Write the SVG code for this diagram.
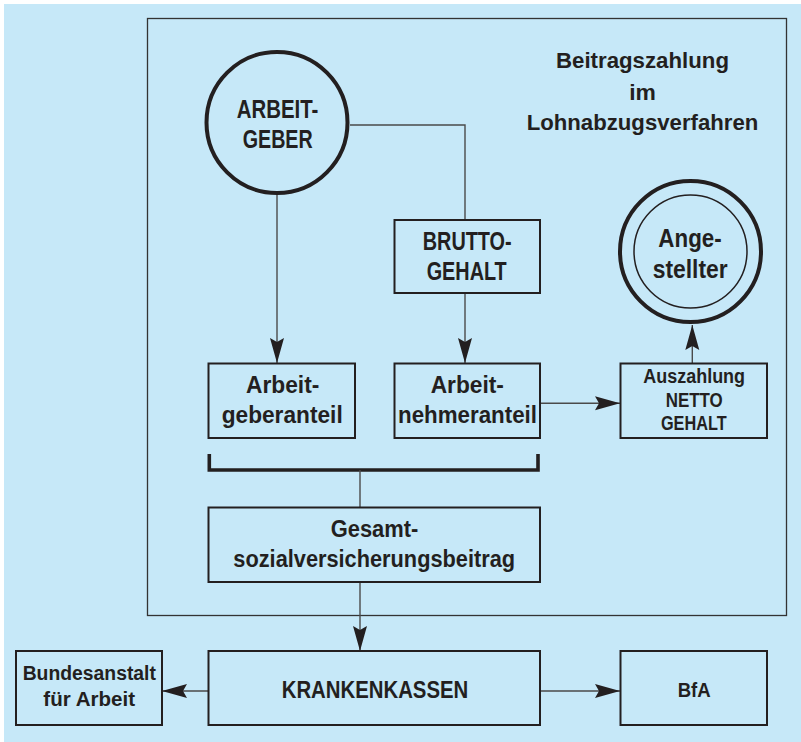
<svg xmlns="http://www.w3.org/2000/svg" width="801" height="742" viewBox="0 0 801 742">
<defs>
<style>
.box{fill:none;stroke:#231f20;stroke-width:2}
.frame{fill:none;stroke:#333;stroke-width:1.3}
.con{fill:none;stroke:#4a4a4a;stroke-width:1.4}
.t{font-family:"Liberation Sans",Arial,sans-serif;font-weight:bold;fill:#231f20;text-anchor:middle}
.l{font-size:25px}
.m{font-size:23.5px}
.s{font-size:20px}
.ti{font-size:21.5px}
</style>
<marker id="ah" markerUnits="userSpaceOnUse" markerWidth="26" markerHeight="16" viewBox="0 0 26 16" refX="25" refY="8" orient="auto">
<path d="M0,1 L25,8 L0,15 L4,8 Z" fill="#231f20"/>
</marker>
</defs>
<rect x="0" y="0" width="801" height="742" fill="#ffffff"/>
<rect x="4" y="4" width="797" height="738" fill="#c6e8f8"/>
<rect id="frame" class="frame" x="147.5" y="18.5" width="639" height="597"/>

<g id="title">
<text class="t ti" x="642.5" y="68.3" textLength="173" lengthAdjust="spacingAndGlyphs">Beitragszahlung</text>
<text class="t ti" x="642.5" y="100" textLength="26.7" lengthAdjust="spacingAndGlyphs">im</text>
<text class="t ti" x="642.5" y="130" textLength="231.6" lengthAdjust="spacingAndGlyphs">Lohnabzugsverfahren</text>
</g>

<g id="connectors">
<path class="con" d="M350,125 H465 V220"/>
<path class="con" d="M277,195 V363" marker-end="url(#ah)"/>
<path class="con" d="M465,293 V363" marker-end="url(#ah)"/>
<path class="con" d="M540,403.3 H620" marker-end="url(#ah)"/>
<path class="con" d="M692.3,363 V325" marker-end="url(#ah)"/>
<path d="M209.3,454 V470 H538 V454" fill="none" stroke="#231f20" stroke-width="3.6"/>
<path class="con" d="M360,470 V507"/>
<path class="con" d="M360,582 V651" marker-end="url(#ah)"/>
<path class="con" d="M208,691 H162" marker-end="url(#ah)"/>
<path class="con" d="M540,691 H620" marker-end="url(#ah)"/>
</g>

<g id="arbeitgeber">
<circle cx="277" cy="122.5" r="70.5" fill="none" stroke="#231f20" stroke-width="4"/>
<text class="t l" x="277.5" y="118.3" textLength="81.6" lengthAdjust="spacingAndGlyphs">ARBEIT-</text>
<text class="t l" x="277.7" y="148.3" textLength="70" lengthAdjust="spacingAndGlyphs">GEBER</text>
</g>

<g id="brutto">
<rect class="box" x="394.5" y="220" width="145.5" height="73"/>
<text class="t l" x="467.2" y="250" textLength="89" lengthAdjust="spacingAndGlyphs">BRUTTO-</text>
<text class="t l" x="466.7" y="280" textLength="80" lengthAdjust="spacingAndGlyphs">GEHALT</text>
</g>

<g id="angestellter">
<circle cx="690.5" cy="251.5" r="70.5" fill="none" stroke="#231f20" stroke-width="4"/>
<circle cx="690.5" cy="251.5" r="56.5" fill="none" stroke="#231f20" stroke-width="1.5"/>
<text class="t l" x="690" y="247.3" textLength="63.3" lengthAdjust="spacingAndGlyphs">Ange-</text>
<text class="t l" x="690.2" y="278.3" textLength="75" lengthAdjust="spacingAndGlyphs">stellter</text>
</g>

<g id="arbeitgeberanteil">
<rect class="box" x="208.5" y="363.5" width="146.5" height="74.5"/>
<text class="t m" x="282.7" y="393.3" textLength="73.3" lengthAdjust="spacingAndGlyphs">Arbeit-</text>
<text class="t m" x="282.2" y="423.3" textLength="121" lengthAdjust="spacingAndGlyphs">geberanteil</text>
</g>

<g id="arbeitnehmeranteil">
<rect class="box" x="394.5" y="363.5" width="145.5" height="74.5"/>
<text class="t m" x="467.3" y="393.3" textLength="73.3" lengthAdjust="spacingAndGlyphs">Arbeit-</text>
<text class="t m" x="467.5" y="423.3" textLength="139" lengthAdjust="spacingAndGlyphs">nehmeranteil</text>
</g>

<g id="auszahlung">
<rect class="box" x="620.5" y="363.5" width="146.5" height="74.5"/>
<text class="t s" x="694.2" y="383.3" textLength="101.7" lengthAdjust="spacingAndGlyphs">Auszahlung</text>
<text class="t s" x="694.2" y="406.7" textLength="57" lengthAdjust="spacingAndGlyphs">NETTO</text>
<text class="t s" x="693.8" y="430" textLength="65.7" lengthAdjust="spacingAndGlyphs">GEHALT</text>
</g>

<g id="gesamt">
<rect class="box" x="208.5" y="507.5" width="331.5" height="74.5"/>
<text class="t m" x="374.5" y="536.7" textLength="87.6" lengthAdjust="spacingAndGlyphs">Gesamt-</text>
<text class="t m" x="374.2" y="567.3" textLength="281.7" lengthAdjust="spacingAndGlyphs">sozialversicherungsbeitrag</text>
</g>

<g id="krankenkassen">
<rect class="box" x="208.5" y="651" width="331.5" height="74"/>
<text class="t m" x="375" y="698.3" textLength="186.6" lengthAdjust="spacingAndGlyphs">KRANKENKASSEN</text>
</g>

<g id="bundesanstalt">
<rect class="box" x="16" y="651" width="146" height="74"/>
<text class="t s" x="89.3" y="680" textLength="133.3" lengthAdjust="spacingAndGlyphs">Bundesanstalt</text>
<text class="t s" x="89.2" y="705.7" textLength="91.7" lengthAdjust="spacingAndGlyphs">für Arbeit</text>
</g>

<g id="bfa">
<rect class="box" x="620.5" y="651" width="146.5" height="74"/>
<text class="t s" x="694.2" y="697.3" textLength="33" lengthAdjust="spacingAndGlyphs">BfA</text>
</g>
</svg>
